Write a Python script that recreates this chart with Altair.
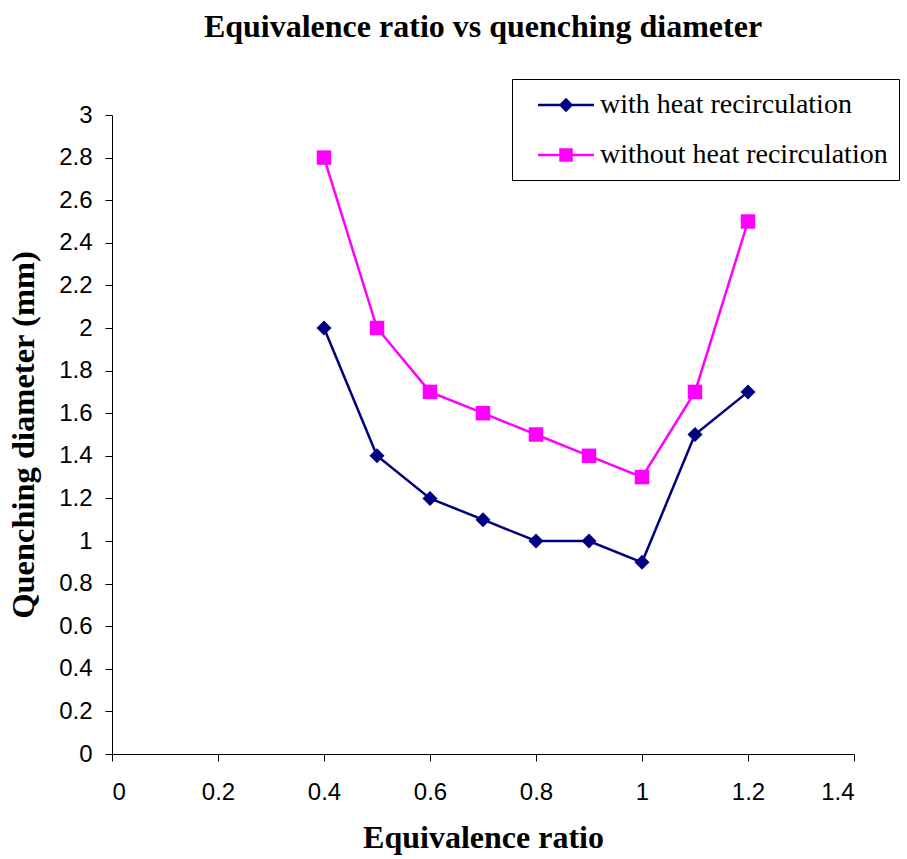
import altair as alt
import pandas as pd

ratio = [0.4, 0.5, 0.6, 0.7, 0.8, 0.9, 1.0, 1.1, 1.2]
with_heat = [2.0, 1.4, 1.2, 1.1, 1.0, 1.0, 0.9, 1.5, 1.7]
without_heat = [2.8, 2.0, 1.7, 1.6, 1.5, 1.4, 1.3, 1.7, 2.5]
series_names = ["with heat recirculation", "without heat recirculation"]
series_colors = ["#000080", "#FF00FF"]
series_shapes = ["diamond", "square"]
x_ticks = [0, 0.2, 0.4, 0.6, 0.8, 1.0, 1.2, 1.4]
y_ticks = [0, 0.2, 0.4, 0.6, 0.8, 1.0, 1.2, 1.4, 1.6, 1.8, 2.0, 2.2, 2.4, 2.6, 2.8, 3.0]

df = pd.DataFrame({
    "ratio": ratio + ratio,
    "diameter": with_heat + without_heat,
    "series": [series_names[0]] * len(ratio) + [series_names[1]] * len(ratio),
})

# legend symbols: a line with a marker on it (custom paths, unit = sqrt(size)/2)
legend_paths = [
    "M0,-0.08L3.73,-0.08L3.73,0.08L0,0.08Z M1.387,0L1.867,-0.48L2.347,0L1.867,0.48Z",
    "M0,-0.08L3.73,-0.08L3.73,0.08L0,0.08Z M1.417,-0.45L2.317,-0.45L2.317,0.45L1.417,0.45Z",
]

x_enc = alt.X(
    "ratio:Q",
    scale=alt.Scale(domain=[0, 1.4], nice=False, zero=False),
    axis=alt.Axis(values=x_ticks, format="~g", title="Equivalence ratio",
                  labelPadding=19, titlePadding=18),
)
y_enc = alt.Y(
    "diameter:Q",
    scale=alt.Scale(domain=[0, 3], nice=False),
    axis=alt.Axis(values=y_ticks, format="~g", title="Quenching diameter (mm)",
                  labelPadding=13, titlePadding=18, titleFontSize=32.5),
)

base = alt.Chart(df)

layers = []
for name, col in zip(series_names, series_colors):
    sub = base.transform_filter(alt.datum.series == name)
    layers.append(sub.mark_line(strokeWidth=2.5, color=col).encode(x=x_enc, y=y_enc))
for name, col, shp, sz in zip(series_names, series_colors, series_shapes, [225, 210]):
    sub = base.transform_filter(alt.datum.series == name)
    layers.append(
        sub.mark_point(filled=True, opacity=1, size=sz, shape=shp, color=col)
        .encode(x=x_enc, y=y_enc)
    )

legend_props = dict(
    title=None, orient="none", legendX=400, legendY=-36,
    padding=11, rowPadding=21, symbolSize=900, symbolStrokeWidth=0,
    labelOffset=47, labelFont="Liberation Serif", labelFontSize=28,
    labelColor="black", labelLimit=500,
    strokeColor="black", fillColor="white",
)

legend_layer = base.transform_filter("false").mark_point(
    filled=True, opacity=1, size=900
).encode(
    color=alt.Color("series:N",
                    scale=alt.Scale(domain=series_names, range=series_colors),
                    legend=alt.Legend(**legend_props)),
    shape=alt.Shape(
        "series:N",
        scale=alt.Scale(domain=series_names, range=legend_paths),
        legend=alt.Legend(**legend_props),
    ),
)
layers.append(legend_layer)

chart = alt.layer(*layers).properties(
    width=742,
    height=639,
    title=alt.TitleParams("Equivalence ratio vs quenching diameter", anchor="middle"),
    padding={"left": 112, "top": 115, "right": 53, "bottom": 105},
    autosize=alt.AutoSizeParams(type="none"),
    background="white",
).configure_view(
    stroke=None
).configure_axis(
    grid=False,
    domainColor="black",
    domainWidth=1,
    tickColor="black",
    tickSize=7,
    labelFont="Liberation Sans",
    labelFontSize=24,
    labelColor="black",
    titleFont="Liberation Serif",
    titleFontSize=32,
    titleFontWeight="bold",
    titleColor="black",
).configure_title(
    font="Liberation Serif",
    fontSize=32,
    fontWeight="bold",
    color="black",
    offset=35,
)

chart.save("out.html", embed_options={"renderer": "svg", "actions": False})
